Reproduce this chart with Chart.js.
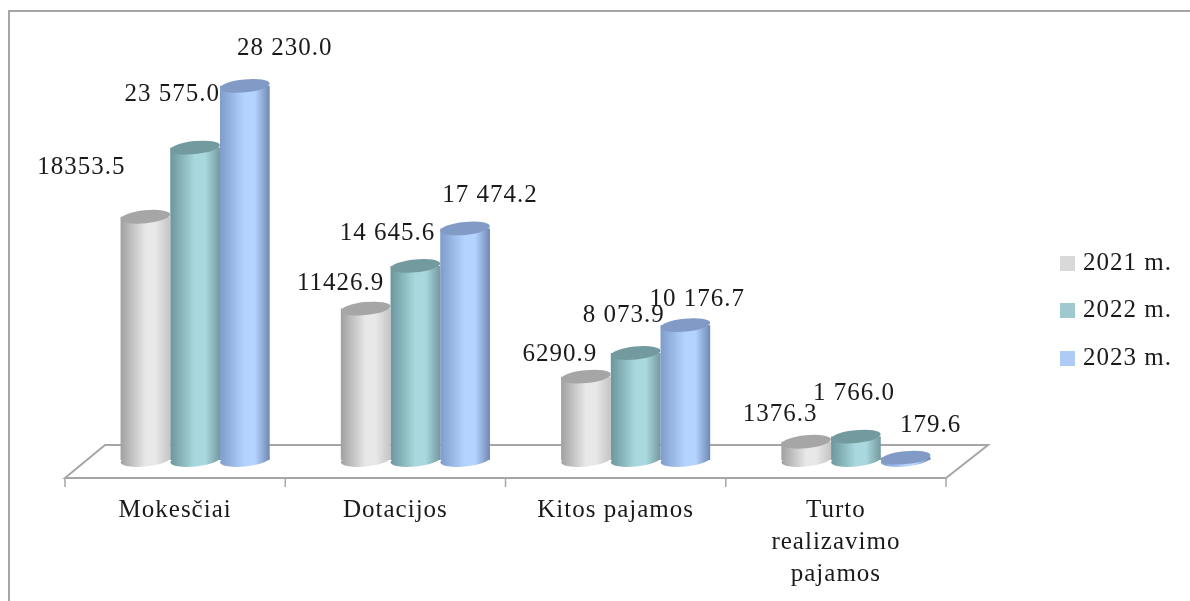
<!DOCTYPE html>
<html>
<head>
<meta charset="utf-8">
<style>
  html, body { margin: 0; padding: 0; background: #fff; }
  #wrap { width: 1190px; height: 601px; }
</style>
<script src="https://cdn.jsdelivr.net/npm/chart.js@4"></script>
</head>
<body>
<div id="wrap"><canvas id="myChart"></canvas></div>
<script>
const categories = ['Mokesčiai', 'Dotacijos', 'Kitos pajamos', ['Turto', 'realizavimo', 'pajamos']];
const seriesNames = ['2021 m.', '2022 m.', '2023 m.'];
const values2021 = [18353.5, 11426.9, 6290.9, 1376.3];
const values2022 = [23575.0, 14645.6, 8073.9, 1766.0];
const values2023 = [28230.0, 17474.2, 10176.7, 179.6];

const FONT = '"Liberation Serif", serif';
const FONT_SIZE = 25;
const SPACING = '1px';
const depth = 20;

// left, middle, right of the cylinder, then its lid and the legend swatch
const looks = [
  { left: '#a0a0a0', mid: '#e8e8e8', right: '#c4c4c4', lid: '#a6a6a6', swatch: '#d9d9d9' },
  { left: '#6c969b', mid: '#a9d9df', right: '#74999e', lid: '#729a9f', swatch: '#9fc9cf' },
  { left: '#7f9ccb', mid: '#b4d4ff', right: '#6f88b3', lid: '#829bc6', swatch: '#aecbf5' }
];

// where each value label sits relative to the top of its bar
const labelOffsets = [
  [[-64, -49], [-25, -25], [-26, -22], [-26, -27]],
  [[-23, -53], [-28, -32], [-12, -38], [-2, -43]],
  [[40, -37], [25, -33], [12, -26], [25, -32]]
];

function formatValue(v, seriesIndex) {
  const s = v.toFixed(1);
  if (seriesIndex === 0) return s;
  return s.replace(/\B(?=(\d{3})+\.)/g, ' ');
}

function swatch(color) {
  const c = document.createElement('canvas');
  c.width = 15;
  c.height = 15;
  const g = c.getContext('2d');
  g.fillStyle = color;
  g.fillRect(0, 0, 15, 15);
  return c;
}

function lid(ctx, x, y, w, fill) {
  ctx.beginPath();
  ctx.ellipse(x, y, w / 2, 6.5, -0.1, 0, Math.PI * 2);
  ctx.fillStyle = fill;
  ctx.fill();
}

function barGradient(ctx, bar, look) {
  const left = bar.x - bar.width / 2;
  const g = ctx.createLinearGradient(left, 0, left + bar.width, 0);
  g.addColorStop(0, look.left);
  g.addColorStop(0.5, look.mid);
  g.addColorStop(0.7, look.mid);
  g.addColorStop(1, look.right);
  return g;
}

const cylinders = {
  id: 'cylinders',
  beforeLayout(chart) {
    chart.ctx.letterSpacing = SPACING;
  },
  beforeDraw(chart) {
    const ctx = chart.ctx;
    ctx.letterSpacing = SPACING;
    // frame round the picture
    ctx.save();
    ctx.strokeStyle = '#a6a6a6';
    ctx.lineWidth = 2;
    ctx.beginPath();
    ctx.moveTo(9, 601);
    ctx.lineTo(9, 11);
    ctx.lineTo(1190, 11);
    ctx.stroke();
    ctx.restore();
  },
  beforeDatasetsDraw(chart) {
    // floor
    const ctx = chart.ctx;
    const base = chart.scales.y.getPixelForValue(0);
    const area = chart.chartArea;
    const x = chart.scales.x;
    const front = base + 18;
    const back = base - 15;
    ctx.save();
    ctx.strokeStyle = '#a6a6a6';
    ctx.lineWidth = 2;
    ctx.beginPath();
    ctx.moveTo(area.left + depth, back);
    ctx.lineTo(area.left - depth, front);
    ctx.lineTo(area.right - depth, front);
    ctx.lineTo(area.right + depth + 2, back);
    ctx.closePath();
    ctx.stroke();
    const step = (area.right - area.left) / categories.length;
    ctx.lineWidth = 1.5;
    for (let i = 0; i <= categories.length; i++) {
      const px = x.getPixelForValue(0) - step / 2 + step * i - depth;
      ctx.beginPath();
      ctx.moveTo(px, front);
      ctx.lineTo(px, front + 9);
      ctx.stroke();
    }
    ctx.restore();
  },
  beforeDatasetDraw(chart, args) {
    const ctx = chart.ctx;
    const look = looks[args.index];
    args.meta.data.forEach(bar => {
      const fill = barGradient(ctx, bar, look);
      bar.options = Object.assign({}, bar.options, { backgroundColor: fill });
      lid(ctx, bar.x, bar.base, bar.width, fill);
    });
  },
  afterDatasetDraw(chart, args) {
    const ctx = chart.ctx;
    const look = looks[args.index];
    args.meta.data.forEach(bar => lid(ctx, bar.x, bar.y, bar.width, look.lid));
  },
  afterDatasetsDraw(chart) {
    const ctx = chart.ctx;
    ctx.save();
    ctx.font = FONT_SIZE + 'px ' + FONT;
    ctx.fillStyle = '#1a1a1a';
    ctx.textAlign = 'center';
    ctx.textBaseline = 'middle';
    chart.data.datasets.forEach((ds, s) => {
      chart.getDatasetMeta(s).data.forEach((bar, i) => {
        const off = labelOffsets[s][i];
        ctx.fillText(formatValue(ds.data[i], s), bar.x + off[0], bar.y + off[1]);
      });
    });
    ctx.restore();
  }
};

new Chart(document.getElementById('myChart'), {
  type: 'bar',
  plugins: [cylinders],
  data: {
    labels: categories,
    datasets: [
      { label: seriesNames[0], data: values2021, backgroundColor: looks[0].swatch },
      { label: seriesNames[1], data: values2022, backgroundColor: looks[1].swatch },
      { label: seriesNames[2], data: values2023, backgroundColor: looks[2].swatch }
    ]
  },
  options: {
    responsive: true,
    maintainAspectRatio: false,
    animation: false,
    devicePixelRatio: 1,
    layout: { padding: { left: 85, right: 8, top: 20, bottom: 0 } },
    categoryPercentage: 0.677,
    barPercentage: 1,
    scales: {
      x: {
        grid: { display: false, drawTicks: false },
        border: { display: false },
        afterFit(scale) { scale.height = 141; },
        ticks: {
          font: { family: FONT, size: FONT_SIZE, lineHeight: 1.28 },
          color: '#1a1a1a',
          padding: 34,
          labelOffset: -depth,
          maxRotation: 0,
          autoSkip: false
        }
      },
      // hidden axis on the right, only keeps the gap between floor and legend
      y: {
        position: 'right',
        min: 0,
        max: 33200,
        grid: { display: false, drawTicks: false },
        border: { display: false },
        ticks: { display: false },
        afterFit(scale) { scale.width = 76; }
      }
    },
    plugins: {
      tooltip: { enabled: false },
      legend: {
        position: 'right',
        labels: {
          font: { family: FONT, size: FONT_SIZE },
          color: '#1a1a1a',
          padding: 22.5,
          boxWidth: 6,
          usePointStyle: true,
          generateLabels(chart) {
            return chart.data.datasets.map((ds, i) => ({
              text: ds.label,
              datasetIndex: i,
              pointStyle: swatch(ds.backgroundColor),
              fontColor: '#1a1a1a',
              lineWidth: 0
            }));
          }
        }
      }
    }
  }
});
</script>
</body>
</html>
